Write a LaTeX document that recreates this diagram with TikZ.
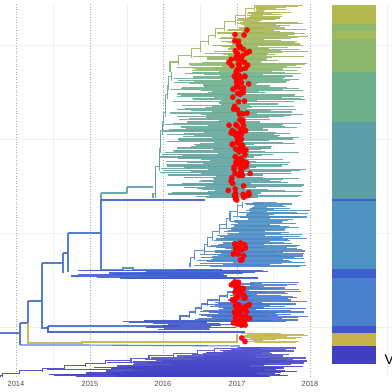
\documentclass[tikz,border=0pt]{standalone}
\usepackage{fontspec}
\setmainfont{Liberation Sans}
\definecolor{cOl}{HTML}{B3B84F}
\definecolor{cOl2}{HTML}{A3BA5C}
\definecolor{cGr}{HTML}{8CB86D}
\definecolor{cTg}{HTML}{6DAF8A}
\definecolor{cTe}{HTML}{5C9FA7}
\definecolor{cB1}{HTML}{4E92C2}
\definecolor{cB1b}{HTML}{4A86C9}
\definecolor{cBd}{HTML}{3F5FD0}
\definecolor{cB2}{HTML}{4A80CC}
\definecolor{cB2b}{HTML}{4470CC}
\definecolor{cB3}{HTML}{3F55CC}
\definecolor{cYe}{HTML}{C5B44C}
\definecolor{cDb}{HTML}{3F3FC0}
\definecolor{cDl}{HTML}{5656D2}
\definecolor{gridc}{HTML}{F0F0F0}
\definecolor{dotc}{HTML}{A8A8A8}
\definecolor{labc}{HTML}{4D4D4D}
\tikzset{
  br/.style={line width=1.1pt, opacity=0.9},
  tp/.style={line width=1.15pt, opacity=0.9},
  reddot/.style={fill=red, opacity=0.95},
  grd/.style={draw=gridc, line width=0.6pt},
  yrl/.style={draw=dotc, dotted, line width=0.6pt},
  ylab/.style={text=labc, font=\fontsize{7.5}{8}\selectfont},
}
\def\tipmin{240}\def\tiprange{65}\def\tipfrac{0.75}
\newcommand{\ladder}[8]{%
  \xdef\LDpx{#5}\xdef\LDpy{#1}%
  \foreach \LDg in {1,...,#3}{%
    \pgfmathsetmacro{\LDf}{(\LDg-1)/max(#3-1,1)}%
    \pgfmathsetmacro{\LDh}{(#2-#1)/#3}%
    \pgfmathsetmacro{\LDgy}{#1+\LDh*(\LDg-0.5)}%
    \pgfmathsetmacro{\LDsx}{max(\LDpx, #5+(#6-#5)*\LDf+(rnd-0.5)*6)}%
    \pgfmathtruncatemacro{\LDpc}{100*\LDf}%
    \colorlet{LDc}{#8!\LDpc!#7}%
    \draw[br,LDc] (\LDpx,\LDpy) |- (\LDsx,\LDgy);%
    \draw[br,LDc] (\LDsx,\LDgy-0.45*\LDh) -- (\LDsx,\LDgy+0.45*\LDh);%
    \foreach \LDk in {1,...,#4}{%
      \pgfmathsetmacro{\LDty}{\LDgy+\LDh*((\LDk-0.5)/#4-0.5)}%
      \pgfmathsetmacro{\LDta}{\LDsx+rnd*\tipfrac*max(\tipmin-\LDsx,0)}%
      \pgfmathsetmacro{\LDtb}{max(\LDta+4,\tipmin+rnd*\tiprange)}%
      \draw[tp,LDc] (\LDta,\LDty) -- (\LDtb,\LDty);%
    }%
    \xdef\LDpx{\LDsx}\xdef\LDpy{\LDgy}%
  }%
}
\begin{document}
\begin{tikzpicture}[x=1pt,y=-1pt]
\pgfmathsetseed{7}
\useasboundingbox[fill=white] (0,0) rectangle (392,392);
% grid
\foreach \gy in {45,139,233,327}{\draw[grd] (0,\gy) -- (392,\gy);}
\foreach \gx in {53,127,200,273,387}{\draw[grd] (\gx,4) -- (\gx,378);}
\foreach \gx/\yr in {16/2014,90/2015,163/2016,237/2017,310/2018}{
  \draw[yrl] (\gx,4) -- (\gx,378);
  \node[ylab] (lab\yr) at (\gx,383.5) {\yr};
}
% colour bar
\fill[cOl] (332,5) rectangle (376,24);
\fill[cGr] (332,24) rectangle (376,31);
\fill[cOl2] (332,31) rectangle (376,39);
\fill[cGr] (332,39) rectangle (376,72);
\fill[cTg] (332,72) rectangle (376,122);
\fill[cTe] (332,122) rectangle (376,199.3);
\fill[cBd] (332,199.3) rectangle (376,200.7);
\fill[cB1] (332,200.7) rectangle (376,269);
\fill[cBd] (332,269) rectangle (376,278);
\fill[cB2] (332,278) rectangle (376,325.5);
\fill[cB3] (332,325.5) rectangle (376,333);
\fill[cYe] (332,333) rectangle (376,346);
\fill[cDb] (332,346) rectangle (376,364);
\node[anchor=base west, inner sep=0pt, text=black, font=\fontsize{14}{14}\selectfont] (vlab) at (384.3,364) {V};
% backbone
\draw[br,cB2b] (0,333) -- (20,333);
\draw[br,cB2b] (20,323) -- (20,345);
\draw[br,cB2b] (20,323) -- (28,323);
\draw[br,cB2b] (28,301) -- (28,323);
\draw[br,cYe] (28,323) -- (28,343) -- (82,343) -- (82,342) -- (237,342);
\draw[br,cB2b] (20,345) -- (82,345) -- (240,346);
\draw[br,cB2b] (28,301) -- (42,301);
\draw[br,cB2b] (42,263) -- (42,328) -- (48,328);
\draw[br,cB3] (48,326) -- (48,332) -- (245,332);
\draw[br,cB2b] (42,263) -- (63,263);
\draw[br,cB2b] (63,253) -- (63,273);
\draw[br,cB2b] (63,253) -- (68,253);
\draw[br,cB2b] (68,233) -- (68,272);
\draw[br,cB2b] (68,233) -- (101,233);
\draw[br,cB2b] (101,200) -- (101,270);
\draw[br,cTe] (101,193) -- (101,200);
\draw[br,cBd] (101,200) -- (205,200);
\draw[br,cTe] (101,193) -- (127,193);
\draw[br,cTe] (127,187) -- (127,193);
\draw[br,cTe] (127,187) -- (153,187);
\draw[br,cB1b] (101,270) -- (123,270) -- (123,268) -- (133,268) -- (133,270) -- (190,270);
% dark blue band
\foreach \k in {0,...,14}{
  \pgfmathsetmacro{\by}{269.5+\k*0.65}
  \pgfmathsetmacro{\ba}{63+rnd*130}
  \pgfmathsetmacro{\bb}{215+rnd*55}
  \draw[tp,cBd] (\ba,\by) -- (\bb,\by);
}
% clade A (top)
\def\tipmin{240}\def\tiprange{66}\def\tipfrac{0.75}
\ladder{198}{72}{14}{8}{153}{172}{cTe}{cTg}
\def\tipmin{258}\def\tiprange{52}\def\tipfrac{0.7}
\ladder{72}{5}{10}{8}{170}{256}{cGr}{cOl}
% clade B1
\def\tipmin{262}\def\tiprange{48}\def\tipfrac{0.6}
\ladder{267}{202}{10}{8}{190}{245}{cB1b}{cB1}
% clade B2
\draw[br,cB2b] (48,326) -- (82,326) -- (180,326);
\foreach \k in {0,...,9}{
  \pgfmathsetmacro{\by}{321+\k*0.9}
  \pgfmathsetmacro{\ba}{118+rnd*80}
  \pgfmathsetmacro{\bb}{205+rnd*35}
  \draw[tp,cB3] (\ba,\by) -- (\bb,\by);
}
\def\tipmin{248}\def\tiprange{60}\def\tipfrac{0.6}
\ladder{322}{282}{10}{5}{180}{248}{cB2b}{cB2}
% yellow clade
\draw[br,cYe] (237,333.5) -- (237,342);
\foreach \k in {0,...,11}{
  \pgfmathsetmacro{\by}{333.5+\k*0.8}
  \pgfmathsetmacro{\ba}{237+rnd*22}
  \pgfmathsetmacro{\bb}{262+rnd*48}
  \draw[tp,cYe] (\ba,\by) -- (\bb,\by);
}
% clade D (bottom)
\def\tipmin{250}\def\tiprange{58}\def\tipfrac{0.5}
\ladder{377}{347}{12}{4}{0}{238}{cDb}{cDl}
% red dots
\foreach \i in {1,...,140}{
  \pgfmathsetmacro{\dx}{239+(rnd+rnd+rnd-1.5)*10}
  \pgfmathsetmacro{\dy}{34+rnd*166}
  \fill[reddot] (\dx,\dy) circle (2.9);
}
\fill[reddot] (247,30) circle (2.9);
\foreach \i in {1,...,16}{
  \pgfmathsetmacro{\dx}{239+(rnd+rnd-1)*9}
  \pgfmathsetmacro{\dy}{242+rnd*19}
  \fill[reddot] (\dx,\dy) circle (2.9);
}
\foreach \i in {1,...,60}{
  \pgfmathsetmacro{\dx}{240+(rnd+rnd+rnd-1.5)*10}
  \pgfmathsetmacro{\dy}{279+rnd*47}
  \fill[reddot] (\dx,\dy) circle (2.9);
}
\fill[reddot] (241.7,338) circle (2.9);
\fill[reddot] (245,341.5) circle (2.9);
\end{tikzpicture}
\end{document}
